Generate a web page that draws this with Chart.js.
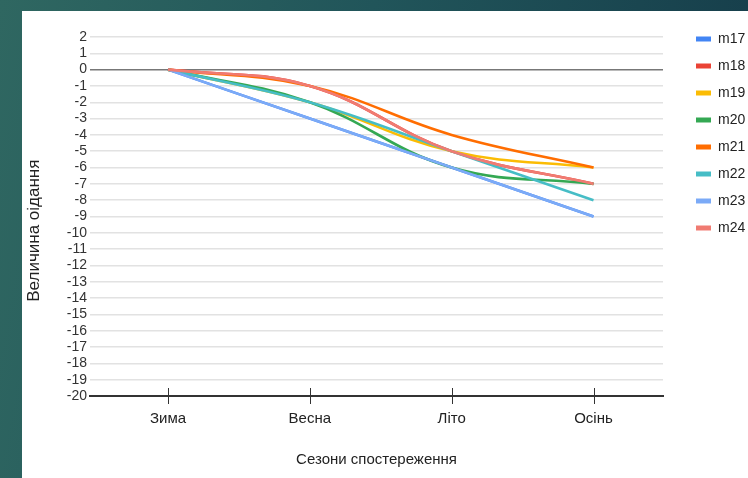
<!DOCTYPE html>
<html>
<head>
<meta charset="utf-8">
<script src="https://cdn.jsdelivr.net/npm/chart.js@4.4.0/dist/chart.umd.min.js"></script>
<style>
  html, body { margin: 0; padding: 0; }
  body {
    width: 748px; height: 478px; overflow: hidden; position: relative;
    background: linear-gradient(100deg, #2f6761 0%, #21555a 45%, #153b49 100%);
  }
  #panel {
    position: absolute; left: 22px; top: 11px; width: 726px; height: 467px;
    background: #fff;
  }
</style>
</head>
<body>
<div id="panel"><canvas id="myChart"></canvas></div>
<script>
var seasons = ["Зима", "Весна", "Літо", "Осінь"];
var names = ["m17", "m18", "m19", "m20", "m21", "m22", "m23", "m24"];
var colors = ["#4285F4", "#EA4335", "#FBBC04", "#34A853", "#FF6D01", "#46BDC6", "#7BAAF7", "#F07B72"];

var m17 = [0, -3, -6, -9];
var m18 = [0, -1, -5, -7];
var m19 = [0, -2, -5, -6];
var m20 = [0, -2, -6, -7];
var m21 = [0, -1, -4, -6];
var m22 = [0, -2, -5, -8];
var m23 = [0, -3, -6, -9];
var m24 = [0, -1, -5, -7];
var series = [m17, m18, m19, m20, m21, m22, m23, m24];

var yMin = -20;
var yMax = 2;

var datasets = [];
for (var i = 0; i < series.length; i++) {
    datasets.push({
        label: names[i],
        data: series[i].map(function (v, k) { return { x: k, y: v }; }),
        borderColor: colors[i],
        backgroundColor: colors[i],
        borderWidth: 2.6,
        pointRadius: 0,
        tension: 0.4,
        fill: false,
        order: series.length - i
    });
}

// small vertical ticks crossing the bottom axis
var crossTicks = {
    id: 'crossTicks',
    afterDraw: function (chart) {
        var x = chart.scales.x;
        var y = chart.chartArea.bottom;
        var ctx = chart.ctx;
        ctx.save();
        ctx.strokeStyle = '#333';
        ctx.lineWidth = 1;
        x.ticks.forEach(function (t) {
            var px = Math.round(x.getPixelForValue(t.value)) + 0.5;
            ctx.beginPath();
            ctx.moveTo(px, y - 8);
            ctx.lineTo(px, y + 8);
            ctx.stroke();
        });
        ctx.restore();
    }
};

var font = 'Liberation Sans, Arial, sans-serif';

var ctx = document.getElementById('myChart').getContext('2d');
var chart = new Chart(ctx, {
    type: 'line',
    data: { datasets: datasets },
    plugins: [crossTicks],
    options: {
        responsive: true,
        maintainAspectRatio: false,
        animation: false,
        layout: { padding: { top: 8, right: 0, bottom: 5, left: 0 } },
        plugins: {
            legend: {
                position: 'right',
                align: 'start',
                maxWidth: 65,
                labels: {
                    boxWidth: 15,
                    boxHeight: 5,
                    padding: 13,
                    color: '#222',
                    font: { family: font, size: 14 },
                    sort: function (a, b) { return a.datasetIndex - b.datasetIndex; },
                    generateLabels: function (c) {
                        var items = Chart.defaults.plugins.legend.labels.generateLabels(c);
                        items.forEach(function (it) { it.lineWidth = 0; });
                        return items;
                    }
                }
            },
            tooltip: { enabled: false }
        },
        scales: {
            x: {
                type: 'linear',
                min: -0.55,
                max: 3.49,
                afterBuildTicks: function (s) {
                    s.ticks = seasons.map(function (_, k) { return { value: k }; });
                },
                grid: { display: false },
                border: { display: true, color: '#333', width: 2 },
                ticks: {
                    padding: 6,
                    color: '#222',
                    font: { family: font, size: 15 },
                    callback: function (v) { return seasons[v]; }
                },
                title: {
                    display: true,
                    text: 'Сезони спостереження',
                    color: '#222',
                    font: { family: font, size: 15 },
                    padding: { top: 17, bottom: 4 }
                }
            },
            xt: {
                type: 'linear',
                position: 'top',
                display: true,
                grid: { display: false },
                border: { display: false },
                ticks: { display: false },
                afterFit: function (s) { s.height = 18; }
            },
            y: {
                min: yMin,
                max: yMax,
                afterFit: function (s) { s.width = 68; },
                ticks: {
                    stepSize: 1,
                    autoSkip: false,
                    padding: 3,
                    color: '#333',
                    font: { family: font, size: 14 }
                },
                grid: {
                    drawTicks: false,
                    color: function (c) {
                        if (c.tick.value === 0) return '#777';
                        if (c.tick.value === yMin) return 'rgba(0,0,0,0)';
                        return '#e2e2e2';
                    },
                    lineWidth: 1.5
                },
                border: { display: false },
                title: {
                    display: true,
                    // trailing spaces push the rotated title a little lower, as in the original
                    text: 'Величина оідання      ',
                    color: '#222',
                    font: { family: font, size: 17 },
                    padding: { top: 2, bottom: 0 }
                }
            },
            yr: {
                type: 'linear',
                position: 'right',
                display: true,
                grid: { display: false },
                border: { display: false },
                ticks: { display: false },
                afterFit: function (s) { s.width = 20; }
            }
        }
    }
});
</script>
</body>
</html>
